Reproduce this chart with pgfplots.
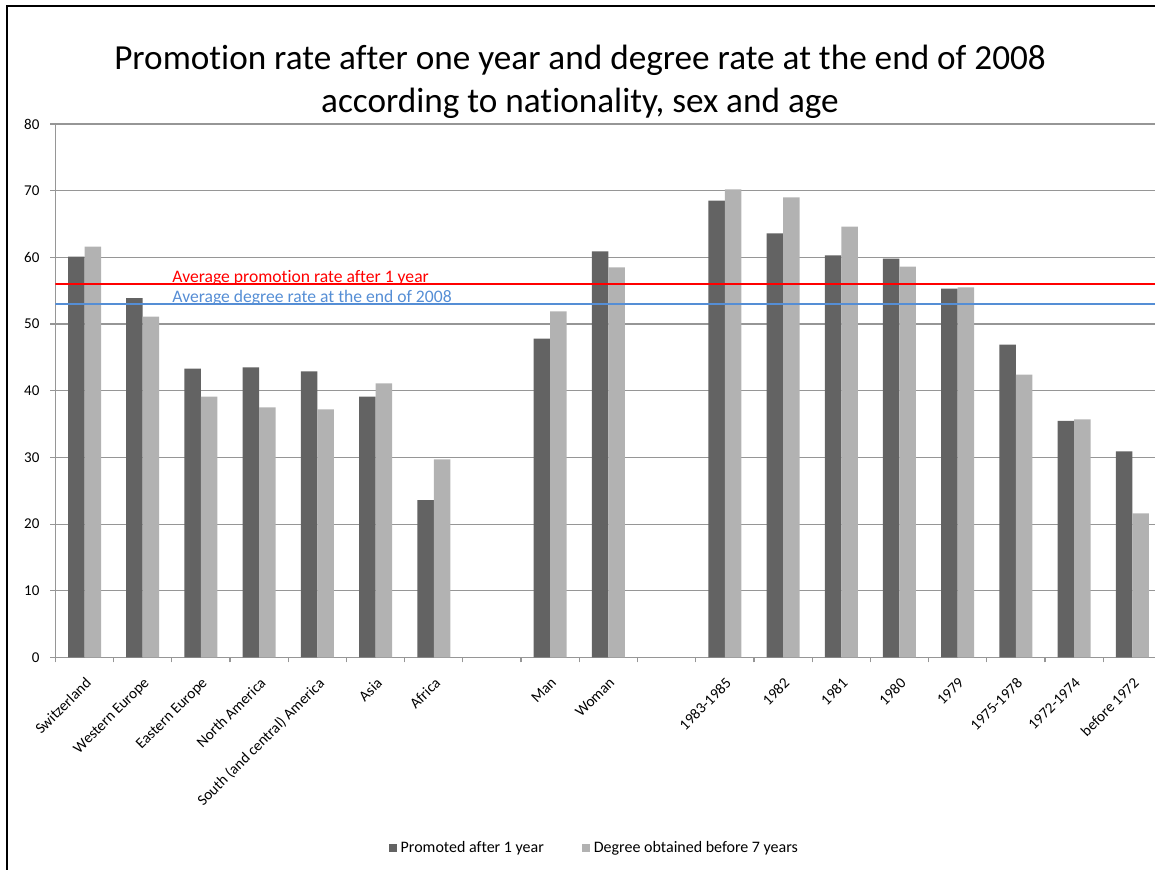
\documentclass[border=0pt]{standalone}
\usepackage{pgfplots}
\pgfplotsset{compat=1.18}
\usepackage{fontspec}
\setmainfont{Carlito}[Ligatures={NoCommon,NoContextual}]
\definecolor{darkbar}{RGB}{99,99,99}
\definecolor{lightbar}{RGB}{178,178,178}
\definecolor{gridgray}{RGB}{150,150,150}
\definecolor{avgblue}{RGB}{85,142,213}
\begin{document}
\begin{tikzpicture}
\useasboundingbox (0,0) rectangle (577.5pt,435pt);
\draw[line width=1pt] (3.5pt,0) -- (3.5pt,431.75pt) -- (580pt,431.75pt);
\node[anchor=base, font=\fontsize{17.6}{20}\selectfont, inner sep=0pt] at (290pt,400.2pt) {Promotion rate after one year and degree rate at the end of 2008};
\node[anchor=base, font=\fontsize{17.6}{20}\selectfont, inner sep=0pt] at (290pt,378.6pt) {according to nationality, sex and age};
\begin{axis}[
  at={(27.7pt,106.25pt)}, anchor=south west,
  scale only axis, width=549.8pt, height=266.75pt,
  xmin=-0.5, xmax=18.39, ymin=0, ymax=80,
  ybar=0pt, bar width=8.25pt,
  axis x line=bottom, axis y line=left,
  axis line style={-, draw=gridgray, line width=0.6pt},
  ymajorgrids, major grid style={draw=gridgray, line width=0.6pt},
  ytick={0,10,...,80}, minor ytick={0,10,...,80},
  xtick={0,1,2,3,4,5,6,8,9,11,12,13,14,15,16,17,18},
  xticklabels={Switzerland,Western Europe,Eastern Europe,North America,South (and central) America,Asia,Africa,Man,Woman,1983-1985,1982,1981,1980,1979,1975-1978,1972-1974,before 1972},
  minor xtick={-0.5,0.5,...,17.5},
  major tick length=0pt, minor tick length=2.5pt,
  tick align=outside, tick pos=left,
  tick style={draw=gridgray, line width=0.6pt},
  /pgf/number format/assume math mode=true,
  yticklabel style={font=\fontsize{7.5}{9}\selectfont, anchor=east, inner sep=0pt, xshift=-7.8pt},
  xticklabel style={font=\fontsize{7.6}{9}\selectfont, anchor=north east, inner sep=1pt, xshift=0pt, yshift=-8pt, rotate=45},
  legend style={at={(0.491,-0.357)}, anchor=center, draw=none, legend columns=2,
    font=\fontsize{8}{9.6}\selectfont,
    /tikz/every even column/.append style={column sep=17pt}},
  legend image code/.code={\fill[#1] (0pt,-2pt) rectangle (4pt,2pt);},
]
\addplot[fill=darkbar, draw=none] coordinates {(0,60.1) (1,53.9) (2,43.3) (3,43.5) (4,42.9) (5,39.1) (6,23.6) (8,47.8) (9,60.9) (11,68.5) (12,63.6) (13,60.3) (14,59.8) (15,55.3) (16,46.9) (17,35.5) (18,30.9)};
\addlegendentry{Promoted after 1 year}
\addplot[fill=lightbar, draw=none] coordinates {(0,61.6) (1,51.1) (2,39.1) (3,37.5) (4,37.2) (5,41.1) (6,29.7) (8,51.9) (9,58.5) (11,70.2) (12,69.0) (13,64.6) (14,58.6) (15,55.5) (16,42.4) (17,35.7) (18,21.6)};
\addlegendentry{Degree obtained before 7 years}
\addplot[sharp plot, red, line width=0.7pt, forget plot] coordinates {(-0.5,56) (18.39,56)};
\addplot[sharp plot, avgblue, line width=0.7pt, forget plot] coordinates {(-0.5,53) (18.39,53)};
\node[anchor=base west, inner sep=0pt, text=red, font=\fontsize{8.8}{10}\selectfont] at (axis cs:1.503,56.3) {Average promotion rate after 1 year};
\node[anchor=base west, inner sep=0pt, text=avgblue, font=\fontsize{8.8}{10}\selectfont] at (axis cs:1.503,53.3) {Average degree rate at the end of 2008};
\end{axis}
\end{tikzpicture}
\end{document}
